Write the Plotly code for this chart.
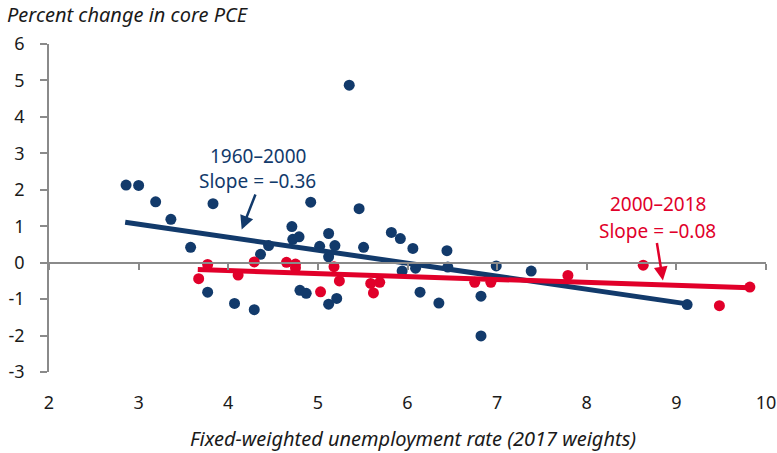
import plotly.graph_objects as go

# 1960-2000 observations (unemployment rate, percent change in core PCE)
blue_x = [2.86, 3.00, 3.19, 3.36, 3.83, 3.58, 3.77, 4.07, 4.29, 4.36,
          4.45, 4.92, 4.71, 4.72, 4.79, 4.80, 4.87, 5.02, 5.12, 5.19,
          5.12, 5.12, 5.21, 5.46, 5.51, 5.35, 5.82, 5.92, 6.06, 6.44,
          5.94, 6.09, 6.45, 6.99, 7.38, 6.14, 6.35, 6.82, 6.82, 9.12]
blue_y = [2.13, 2.12, 1.67, 1.19, 1.62, 0.42, -0.81, -1.12, -1.29, 0.23,
          0.47, 1.66, 0.99, 0.64, 0.71, -0.76, -0.84, 0.45, 0.80, 0.47,
          0.16, -1.14, -0.98, 1.48, 0.42, 4.87, 0.83, 0.66, 0.39, 0.33,
          -0.23, -0.15, -0.12, -0.09, -0.23, -0.81, -1.11, -0.92, -2.01, -1.15]

# 2000-2018 observations
red_x = [3.77, 3.67, 4.11, 4.29, 4.65, 4.75, 4.75, 5.03, 5.18, 5.24,
         5.59, 5.69, 5.62, 6.75, 6.93, 7.79, 8.63, 9.82, 9.48]
red_y = [-0.05, -0.44, -0.34, 0.02, 0.01, -0.04, -0.14, -0.80, -0.11, -0.50,
         -0.57, -0.54, -0.83, -0.54, -0.54, -0.35, -0.07, -0.67, -1.18]

# fitted trend line endpoints
blue_fit_x = [2.85, 9.12]
blue_fit_y = [1.11, -1.13]
red_fit_x = [3.66, 9.82]
red_fit_y = [-0.19, -0.69]

y_ticks = [6, 5, 4, 3, 2, 1, 0, -1, -2, -3]
y_tick_text = ["6", "5", "4", "3", "2", "1", "0", "-1", "-2", "-3"]
x_ticks = [2, 3, 4, 5, 6, 7, 8, 9, 10]

NAVY = "#123a6b"
RED = "#e1002a"
GRAY = "#8a8a8a"
FONT = "Noto Sans"

fig = go.Figure()
fig.add_trace(go.Scatter(x=blue_x, y=blue_y, mode="markers",
                         marker=dict(color=NAVY, size=11), showlegend=False))
fig.add_trace(go.Scatter(x=blue_fit_x, y=blue_fit_y, mode="lines",
                         line=dict(color=NAVY, width=5), showlegend=False))
fig.add_trace(go.Scatter(x=red_x, y=red_y, mode="markers",
                         marker=dict(color=RED, size=11), showlegend=False))
fig.add_trace(go.Scatter(x=red_fit_x, y=red_fit_y, mode="lines",
                         line=dict(color=RED, width=5), showlegend=False))

fig.update_layout(
    width=777, height=453,
    margin=dict(l=48.7, r=11.3, t=43.5, b=81.3),
    paper_bgcolor="white", plot_bgcolor="white",
    font=dict(family=FONT, size=18, color="#1a1a1a"),
    xaxis=dict(range=[2, 10], tickvals=x_ticks, showgrid=False, zeroline=False,
               showline=True, linecolor=GRAY, linewidth=2,
               ticks="outside", ticklen=6, tickcolor=GRAY, tickwidth=1.5,
               showticklabels=False, anchor="free", position=1/3, automargin=False),
    xaxis2=dict(range=[2, 10], tickvals=x_ticks, showgrid=False, zeroline=False,
                showline=False, ticks="", overlaying="x", anchor="y", side="bottom",
                showticklabels=True, ticklabelstandoff=18, automargin=False,
                tickfont=dict(size=18)),
    yaxis=dict(range=[-3, 6], tickvals=y_ticks, ticktext=y_tick_text,
               showgrid=False, zeroline=False, automargin=False,
               showline=True, linecolor=GRAY, linewidth=1.5,
               ticks="outside", ticklen=7, tickcolor=GRAY, tickwidth=1.5,
               ticklabelstandoff=12, tickfont=dict(size=18)),
)

# invisible trace so the label axis renders
fig.add_trace(go.Scatter(x=[2], y=[0], xaxis="x2", mode="markers",
                         marker=dict(opacity=0), showlegend=False, hoverinfo="skip"))

ann = []
ann.append(dict(text="<i>Percent change in core PCE</i>", xref="paper", yref="paper",
                x=-0.061, y=1.09, xanchor="left", yanchor="middle", showarrow=False,
                font=dict(size=20, color="#1a1a1a")))
ann.append(dict(text="<i>Fixed-weighted unemployment rate (2017 weights)</i>",
                xref="paper", yref="paper", x=0.508, y=-0.202,
                xanchor="center", yanchor="middle", showarrow=False,
                font=dict(size=20, color="#1a1a1a")))
ann.append(dict(text="1960–2000", x=4.33, y=2.94, xref="x", yref="y", showarrow=False,
                font=dict(size=19, color=NAVY)))
ann.append(dict(text="Slope = –0.36", x=4.33, y=2.24, xref="x", yref="y", showarrow=False,
                font=dict(size=19, color=NAVY)))
ann.append(dict(text="2000–2018", x=8.79, y=1.62, xref="x", yref="y", showarrow=False,
                font=dict(size=19, color=RED)))
ann.append(dict(text="Slope = –0.08", x=8.79, y=0.87, xref="x", yref="y", showarrow=False,
                font=dict(size=19, color=RED)))
ann.append(dict(text="", x=4.15, y=0.91, ax=4.31, ay=1.91, xref="x", yref="y",
                axref="x", ayref="y", showarrow=True, arrowhead=2, arrowsize=1.1,
                arrowwidth=2.5, arrowcolor=NAVY))
ann.append(dict(text="", x=8.85, y=-0.49, ax=8.78, ay=0.58, xref="x", yref="y",
                axref="x", ayref="y", showarrow=True, arrowhead=2, arrowsize=1.1,
                arrowwidth=2.5, arrowcolor=RED))
fig.update_layout(annotations=ann)

fig.write_html("out.html", config={"displayModeBar": False},
               post_script="document.body.style.margin='0px';"
                           "document.body.style.overflow='hidden';")
